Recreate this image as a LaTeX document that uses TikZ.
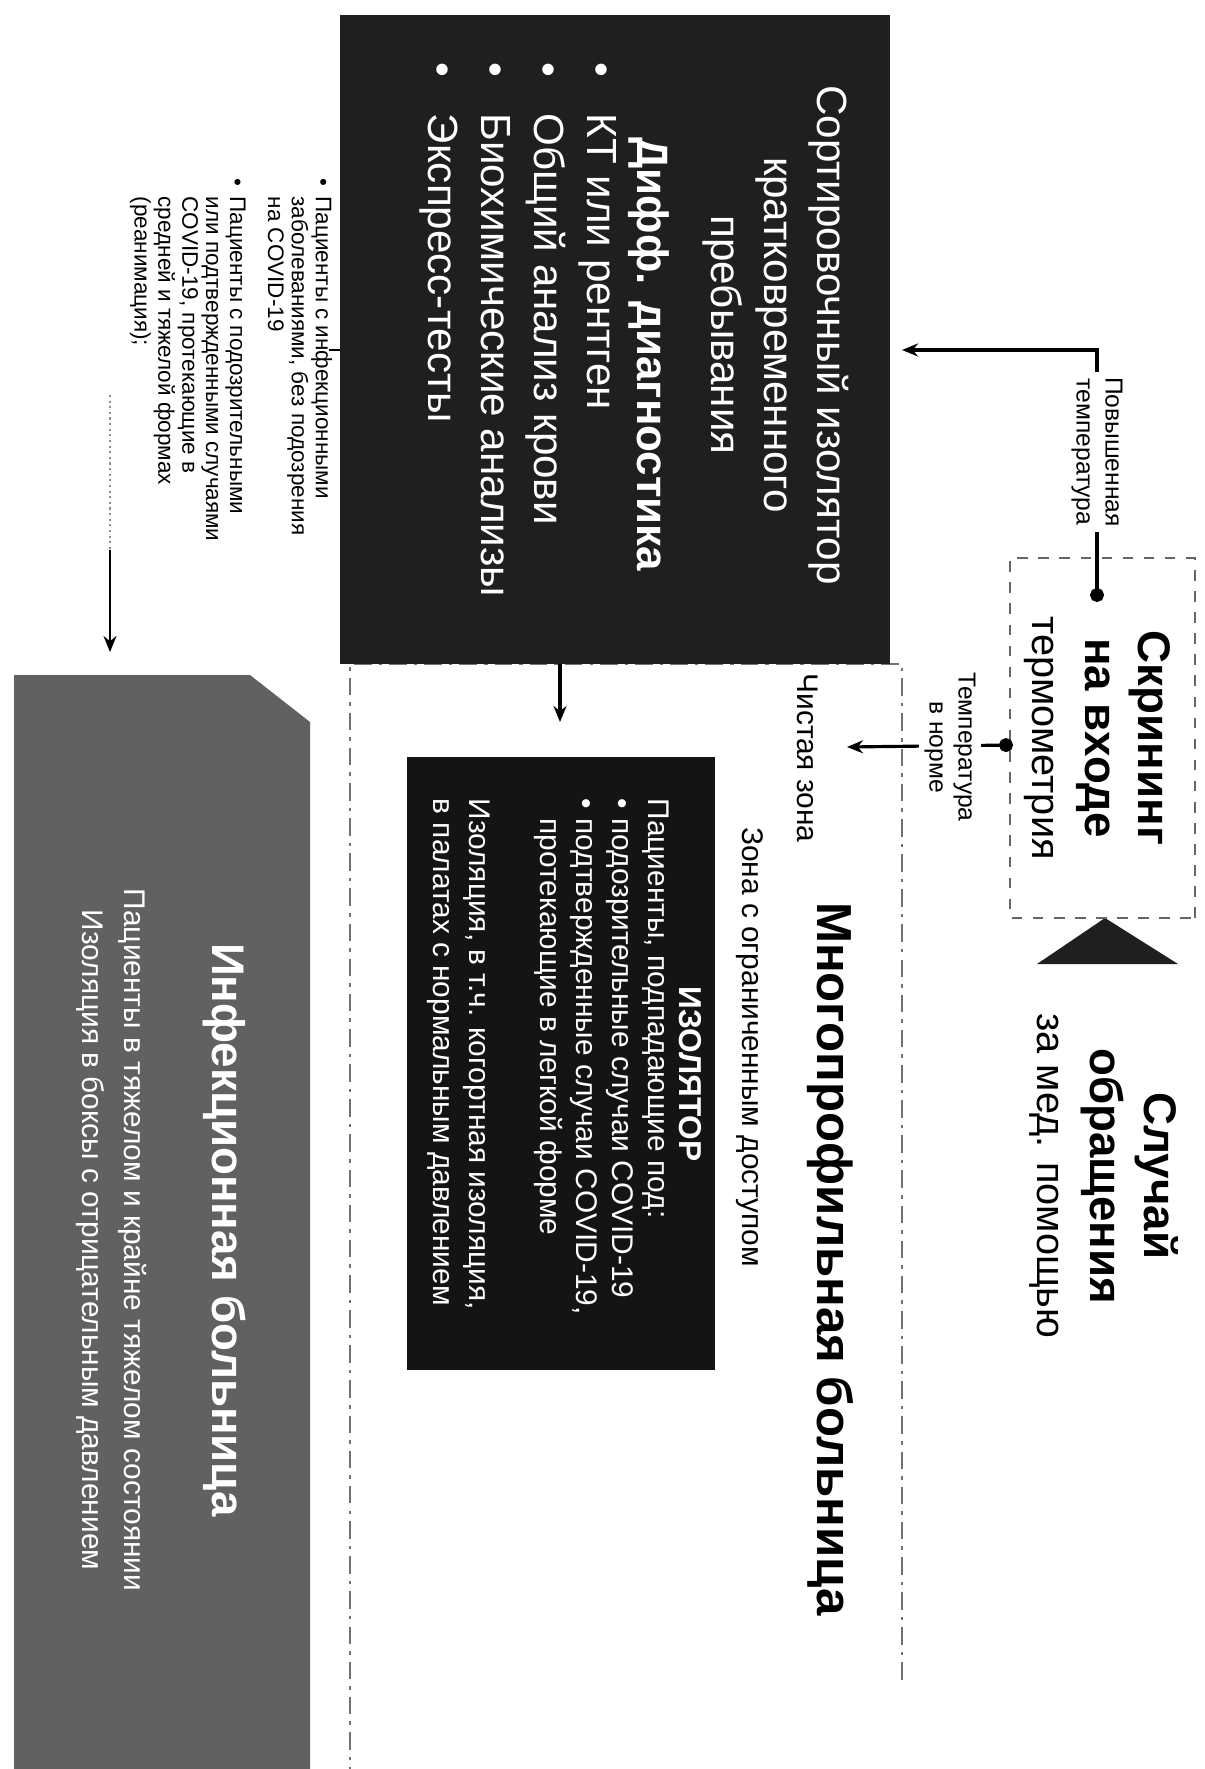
\documentclass[tikz,border=0pt]{standalone}
\usepackage{fontspec}
\setmainfont{Liberation Sans}
\usetikzlibrary{arrows.meta}

\begin{document}
\begin{tikzpicture}[x=0.1mm, y=0.1mm]
\useasboundingbox (0,0) rectangle (1204,-1769);
\fill[white] (0,0) rectangle (1204,-1769);

% the slide is drawn lying on its side
\begin{scope}[rotate=-90, transform shape]

% hospital zone and the shapes without nodes
\draw[black!55, line width=0.5pt, dash pattern=on 5pt off 2pt on 1pt off 2pt]
    (1680,902) -- (664,902) -- (664,350) -- (1769,350);
\fill[black!62] (675,14) -- (675,250) -- (722,310) -- (1769,310) -- (1769,14) -- cycle;
\fill[black!88] (918,1105) -- (964,1037) -- (964,1178) -- cycle;

\begin{scope}[every node/.style={inner sep=0pt}]
    \node[fill=black!88, minimum width=64.9mm, minimum height=55mm] (triage) at (339.5,615) {};
    \node[fill=black!92, minimum width=61.3mm, minimum height=30.8mm] (isol) at (1063.5,561) {};
    \node[draw=black!60, dashed, thin, minimum width=36mm, minimum height=18.5mm] (screen) at (738,1102.5) {};
\end{scope}

\coordinate (hidot) at (602,1097);
\coordinate (hibend) at (350,1097);
\coordinate (hitip) at (350,902);
\coordinate (normdot) at (745,1013);
\coordinate (normtip) at (747,847);
\coordinate (isoout) at (664,560);
\coordinate (isotip) at (722,560);
\coordinate (infout) at (350,340);
\coordinate (inftick) at (350,329);
\coordinate (infdots) at (395,110);
\coordinate (infmid) at (550,110);
\coordinate (inftip) at (652,110);

\begin{scope}[>={Stealth[length=1.6mm, width=1.3mm]},
              every edge/.style={draw, line width=0.9pt}]
    \draw[line width=0.9pt, {Circle[length=1.4mm]}->] (hidot) -- (hibend) -- (hitip);
    \path [{Circle[length=1.4mm]}->] (normdot) edge (normtip);
    \path [->] (isoout) edge (isotip);
    \path [-] (infout) edge[line width=0.6pt] (inftick);
    \path [-] (infdots) edge[black!45, line width=0.6pt, densely dotted] (infmid);
    \path [->] (infmid) edge[line width=0.6pt] (inftip);
\end{scope}

% texts in the dark boxes
\begin{scope}[every node/.style={text=white, inner sep=0pt}]
    \node[align=center, font=\fontsize{12}{15.1}\selectfont] (triagetitle) at (335,776)
        {Сортировочный изолятор\\кратковременного\\пребывания};
    \node[anchor=west, font=\fontsize{12.5}{15.1}\selectfont\bfseries] (diff) at (137,649) {Дифф. диагностика};
    \node[anchor=west, align=left, font=\fontsize{12}{15.1}\selectfont] (tests) at (62,518)
        {\makebox[5.1mm][l]{\textbullet}КТ или рентген\\
         \makebox[5.1mm][l]{\textbullet}Общий анализ крови\\
         \makebox[5.1mm][l]{\textbullet}Биохимические анализы\\
         \makebox[5.1mm][l]{\textbullet}Экспресс-тесты};
    \node[font=\fontsize{9}{10}\selectfont\bfseries] (isotitle) at (1074,690) {ИЗОЛЯТОР};
    \node[anchor=west, align=left, font=\fontsize{8.5}{10.2}\selectfont] (isotext) at (798,548)
        {Пациенты, подпадающие под:\\
         \makebox[2mm][l]{\textbullet}подозрительные случаи COVID-19\\
         \makebox[2mm][l]{\textbullet}подтвержденные случаи COVID-19,\\
         \hspace*{2mm}протекающие в легкой форме\\[10.2pt]
         Изоляция, в т.ч. когортная изоляция,\\
         в палатах с нормальным давлением};
    \node[font=\fontsize{13}{15}\selectfont\bfseries] (infhead) at (1230,225) {Инфекционная больница};
    \node[align=center, font=\fontsize{8.5}{12.2}\selectfont] (infbody) at (1240,111.5)
        {Пациенты в тяжелом и крайне тяжелом состоянии\\Изоляция в боксы с отрицательным давлением};
\end{scope}

% texts on white
\begin{scope}[every node/.style={inner sep=0pt, align=center}]
    \node[font=\fontsize{11.3}{15.1}\selectfont] (screentext) at (738,1097)
        {{\fontsize{13}{15.1}\selectfont\bfseries Скрининг}\\{\fontsize{13}{15.1}\selectfont\bfseries на входе}\\термометрия};
    \node[font=\fontsize{11.3}{15.1}\selectfont] (case) at (1176,1104)
        {{\fontsize{13}{15.1}\selectfont\bfseries Случай}\\{\fontsize{13}{15.1}\selectfont\bfseries обращения}\\за мед. помощью};
    \node[fill=white, inner sep=1.5pt, font=\fontsize{7}{8.3}\selectfont] (hilabel) at (452,1097) {Повышенная\\температура};
    \node[fill=white, inner sep=1.5pt, font=\fontsize{7}{8.3}\selectfont] (normlabel) at (747,950) {Температура\\в норме};
    \node[font=\fontsize{8.5}{10}\selectfont] (clean) at (758,808) {Чистая зона};
    \node[font=\fontsize{8.5}{10}\selectfont] (restrict) at (1047,750) {Зона с ограниченным доступом};
    \node[font=\fontsize{14}{16}\selectfont\bfseries] (multi) at (1259,830) {Многопрофильная больница};
    \node[anchor=west, align=left, font=\fontsize{6.4}{6.8}\selectfont] (severe) at (178,231)
        {\makebox[1.8mm][l]{\textbullet}Пациенты с инфекционными\\
         \hspace*{1.8mm}заболеваниями, без подозрения\\
         \hspace*{1.8mm}на COVID-19\\[4pt]
         \makebox[1.8mm][l]{\textbullet}Пациенты с подозрительными\\
         \hspace*{1.8mm}или подтвержденными случаями\\
         \hspace*{1.8mm}COVID-19, протекающие в\\
         \hspace*{1.8mm}средней и тяжелой формах\\
         \hspace*{1.8mm}(реанимация);};
\end{scope}

\end{scope}
\end{tikzpicture}
\end{document}
